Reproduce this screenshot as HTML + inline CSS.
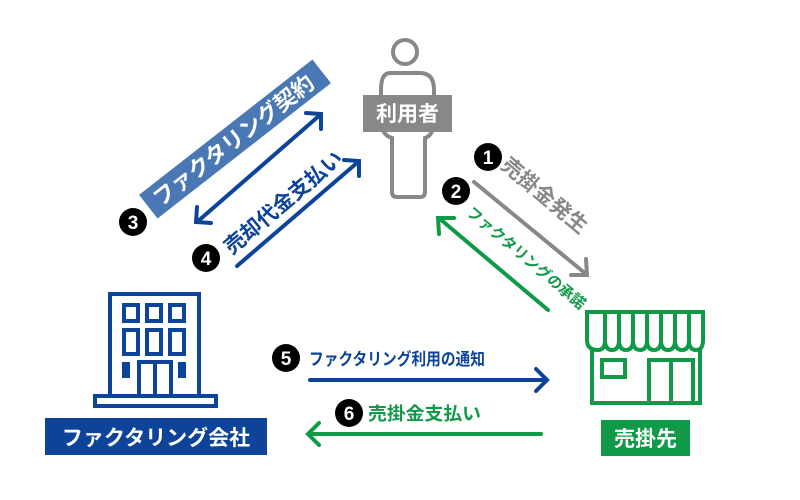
<!DOCTYPE html>
<html><head><meta charset="utf-8"><style>
html,body{margin:0;padding:0;background:#fff;}
svg{display:block;}
text{font-family:"Liberation Sans","Noto Sans CJK JP",sans-serif;font-weight:bold;}
</style></head><body>
<svg width="800" height="500" viewBox="0 0 800 500" xmlns="http://www.w3.org/2000/svg">
<!-- person -->
<g fill="none" stroke="#888" stroke-width="4">
<circle cx="405" cy="52" r="12"/>
<path d="M390 73 H420 Q434 73 434 90 V120 Q434 135 425 138 V192 Q425 197 420 197 H397 Q392 197 392 192 V138 Q381 135 381 120 V90 Q381 73 390 73 Z"/>
</g>
<rect x="363" y="95" width="89" height="37" fill="#888"/>
<text x="407.5" y="121" font-size="21" fill="#fff" text-anchor="middle">利用者</text>

<!-- blue label 3 -->
<g transform="translate(235,139) rotate(-38)">
<rect x="-110" y="-15" width="220" height="30" fill="#4a78b4"/>
<text x="-2" y="8" font-size="22" fill="#fff" text-anchor="middle" font-weight="500">ファクタリング契約</text>
</g>

<!-- arrow 3 double -->
<g stroke="#0d4499" stroke-width="4" fill="none" stroke-linecap="round">
<line x1="197" y1="222" x2="320" y2="115"/>
<polyline points="306,113 321,114 321,129"/>
<polyline points="197,207 196,222 211,223"/>
<line x1="237" y1="266" x2="358" y2="162"/>
<polyline points="344,160 359,161 359,176"/>
</g>
<g transform="translate(288,208) rotate(-40)">
<text x="0" y="0" font-size="21" fill="#0d4499" text-anchor="middle" font-weight="500">売却代金支払い</text>
</g>

<!-- arrow 1 gray -->
<g stroke="#888" stroke-width="4" fill="none" stroke-linecap="round">
<line x1="474" y1="182" x2="586" y2="274"/>
<polyline points="571,275 587,275 586,259"/>
</g>
<g transform="translate(540,201) rotate(40)">
<text x="0" y="0" font-size="21" fill="#888" text-anchor="middle" font-weight="500">売掛金発生</text>
</g>
<!-- arrow 2 green -->
<g stroke="#109a47" stroke-width="4" fill="none" stroke-linecap="round">
<line x1="548" y1="310" x2="440" y2="219"/>
<polyline points="439,234 438,218 454,218"/>
</g>
<g transform="translate(523,262) rotate(40)">
<text x="0" y="0" font-size="15" fill="#109a47" text-anchor="middle" font-weight="500">ファクタリングの承諾</text>
</g>

<!-- shop -->
<g fill="none" stroke="#109a47" stroke-width="4">
<path d="M587 312 H703 V340 Q703 350 696 350 Q689 350 689 340 Q689 350 682 350 Q675 350 675 340 Q675 350 668 350 Q661 350 661 340 Q661 350 654 350 Q647 350 647 340 Q647 350 640 350 Q633 350 633 340 Q633 350 626 350 Q619 350 619 340 Q619 350 612 350 Q605 350 605 340 Q605 350 598 350 Q587 350 587 340 Z"/>
<line x1="605" y1="312" x2="605" y2="340"/><line x1="619" y1="312" x2="619" y2="340"/><line x1="633" y1="312" x2="633" y2="340"/><line x1="647" y1="312" x2="647" y2="340"/><line x1="661" y1="312" x2="661" y2="340"/><line x1="675" y1="312" x2="675" y2="340"/><line x1="689" y1="312" x2="689" y2="340"/>
<path d="M592 350 V403 H700 V350"/>
<rect x="602" y="360" width="23" height="17"/>
<rect x="649" y="360" width="44" height="43"/>
<line x1="671" y1="360" x2="671" y2="403"/>
</g>
<rect x="601" y="420" width="89" height="36" fill="#109a47"/>
<text x="645.5" y="446" font-size="21" fill="#fff" text-anchor="middle">売掛先</text>

<!-- building -->
<g fill="none" stroke="#0d4499" stroke-width="4">
<path d="M110 394 V294 H199 V394"/>
<rect x="95" y="396" width="121" height="10"/>
<rect x="124" y="305" width="14" height="16"/><rect x="147" y="305" width="14" height="16"/><rect x="170" y="305" width="14" height="16"/>
<rect x="124" y="330" width="14" height="24"/><rect x="147" y="330" width="14" height="24"/><rect x="170" y="330" width="14" height="24"/>
<rect x="124" y="364" width="4" height="12"/><rect x="180" y="364" width="4" height="12"/>
<rect x="139" y="362" width="32" height="34"/><line x1="155" y1="362" x2="155" y2="396"/>
</g>
<rect x="45" y="418" width="222" height="37" fill="#0d4499"/>
<text x="156" y="445" font-size="21" fill="#fff" text-anchor="middle">ファクタリング会社</text>

<!-- arrow 5 -->
<g stroke="#0d4499" stroke-width="4" fill="none" stroke-linecap="round">
<line x1="310" y1="380" x2="546" y2="380"/>
<polyline points="536,369 547,380 536,391"/>
</g>
<text x="309" y="365" font-size="17" fill="#0d4499" font-weight="500" textLength="176" lengthAdjust="spacingAndGlyphs">ファクタリング利用の通知</text>
<!-- arrow 6 -->
<g stroke="#109a47" stroke-width="4" fill="none" stroke-linecap="round">
<line x1="309" y1="434" x2="541" y2="434"/>
<polyline points="319,423 308,434 319,445"/>
</g>
<text x="368" y="420" font-size="18" fill="#109a47" font-weight="500" textLength="113" lengthAdjust="spacingAndGlyphs">売掛金支払い</text>

<!-- number circles -->
<g font-size="19" text-anchor="middle">
<circle cx="488" cy="157" r="14" fill="#000"/><text x="488" y="164" fill="#fff">1</text>
<circle cx="456" cy="191" r="14" fill="#000"/><text x="456" y="198" fill="#fff">2</text>
<circle cx="133" cy="222" r="14" fill="#000"/><text x="133" y="229" fill="#fff">3</text>
<circle cx="206" cy="258" r="14" fill="#000"/><text x="206" y="265" fill="#fff">4</text>
<circle cx="286" cy="358" r="14" fill="#000"/><text x="286" y="365" fill="#fff">5</text>
<circle cx="349" cy="413" r="14" fill="#000"/><text x="349" y="420" fill="#fff">6</text>
</g>
</svg>
</body></html>
